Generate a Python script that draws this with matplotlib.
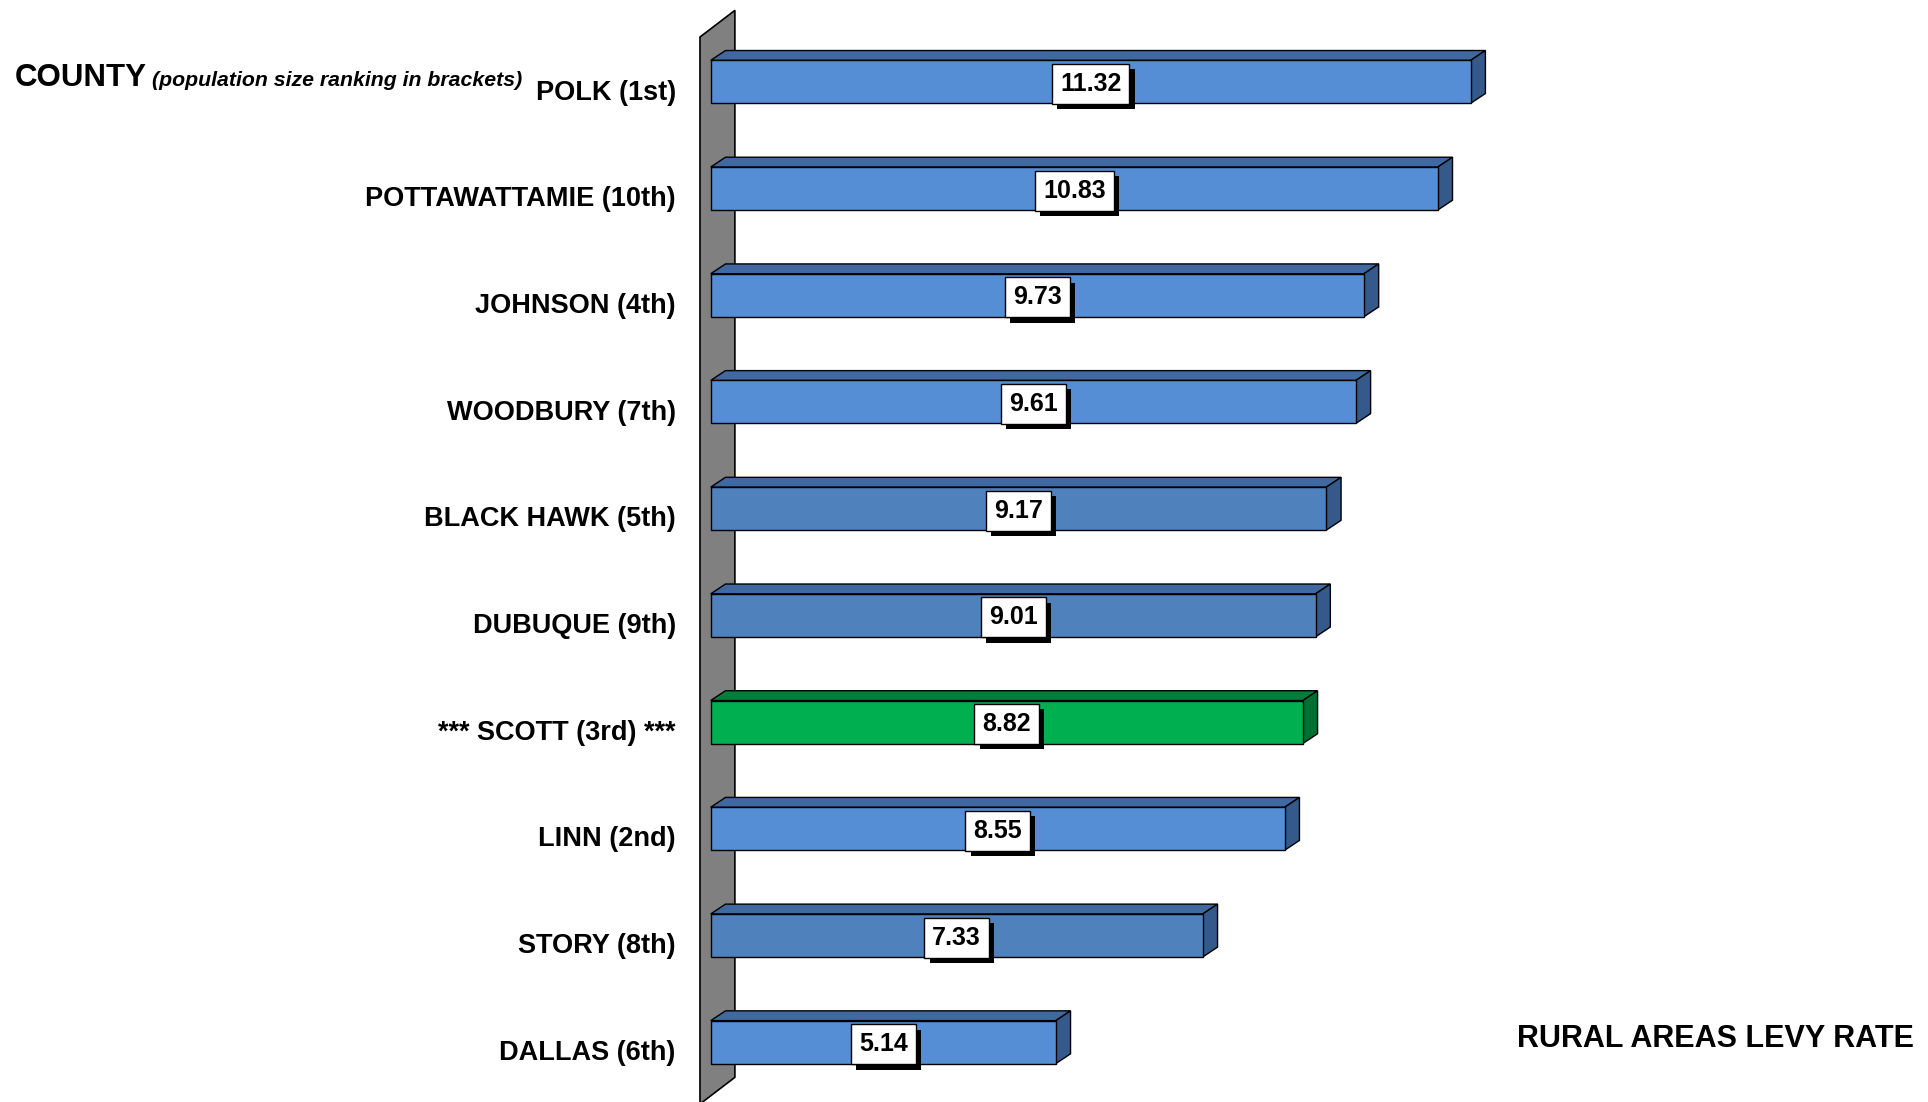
import matplotlib.pyplot as plt
import matplotlib.patheffects as pe
from matplotlib.patches import Polygon

plt.rcParams['font.family'] = ['Liberation Sans', 'DejaVu Sans']

counties = ["POLK (1st)", "POTTAWATTAMIE (10th)", "JOHNSON (4th)", "WOODBURY (7th)",
            "BLACK HAWK (5th)", "DUBUQUE (9th)", "*** SCOTT (3rd) ***", "LINN (2nd)",
            "STORY (8th)", "DALLAS (6th)"]
levy_rate = [11.32, 10.83, 9.73, 9.61, 9.17, 9.01, 8.82, 8.55, 7.33, 5.14]

# shade per bar: light blue, darker blue, highlight green
shade = ["light", "light", "light", "light", "dark", "dark", "green", "light", "dark", "light"]
faces = {
    "light": ("#558ED5", "#3F69A0", "#34598A"),
    "dark": ("#4F81BD", "#3F69A0", "#34598A"),
    "green": ("#00B050", "#007F3A", "#006F32"),
}

fig = plt.figure(figsize=(19.28, 11.02), dpi=100)
ax = fig.add_axes([0, 0, 1, 1])
ax.set_xlim(-10.587, 18.133)
ax.set_ylim(9.561, -0.767)
ax.axis("off")

h = 0.403     # bar thickness
dx, dy = 0.22, -0.092   # 3d depth offset

# grey back wall
wall = Polygon([(-0.16, -0.42), (0.36, -0.67), (0.36, 9.33), (-0.16, 9.58)],
               closed=True, facecolor="#808080", edgecolor="black", lw=1.2, zorder=1)
ax.add_patch(wall)

ys = list(range(len(counties)))
front = [faces[s][0] for s in shade]
ax.barh(ys, levy_rate, height=h, left=0, color=front, edgecolor="black",
        linewidth=1, zorder=3)

for y, v, s, name in zip(ys, levy_rate, shade, counties):
    top_c, side_c = faces[s][1], faces[s][2]
    y0, y1 = y - h / 2, y + h / 2
    top = Polygon([(0, y0), (dx, y0 + dy), (v + dx, y0 + dy), (v, y0)],
                  closed=True, facecolor=top_c, edgecolor="black", lw=1, zorder=2)
    side = Polygon([(v, y0), (v + dx, y0 + dy), (v + dx, y1 + dy), (v, y1)],
                   closed=True, facecolor=side_c, edgecolor="black", lw=1, zorder=2)
    ax.add_patch(top)
    ax.add_patch(side)

    ax.text(v / 2, y + 0.02, f"{v:.2f}", ha="center", va="center",
            fontsize=18, fontweight="bold", zorder=5,
            bbox=dict(boxstyle="square,pad=0.32", facecolor="white", edgecolor="black",
                      linewidth=1,
                      path_effects=[pe.SimplePatchShadow(offset=(3.8, -3.8),
                                                         shadow_rgbFace="black", alpha=1),
                                    pe.Normal()]))

    ax.text(-0.52, y + 0.1, name, ha="right", va="center",
            fontsize=19.5, fontweight="bold", zorder=5)

fig.text(15 / 1928, 1 - 86 / 1102, "COUNTY", fontsize=22.5, fontweight="bold",
         ha="left", va="baseline")
fig.text(152 / 1928, 1 - 86 / 1102, "(population size ranking in brackets)",
         fontsize=15.3, fontweight="bold", fontstyle="italic", ha="left", va="baseline")
fig.text(1914 / 1928, 1 - 1039 / 1102, "RURAL AREAS LEVY RATE", fontsize=22,
         fontweight="bold", ha="right", va="center")

fig.savefig("out.png", dpi=100)
